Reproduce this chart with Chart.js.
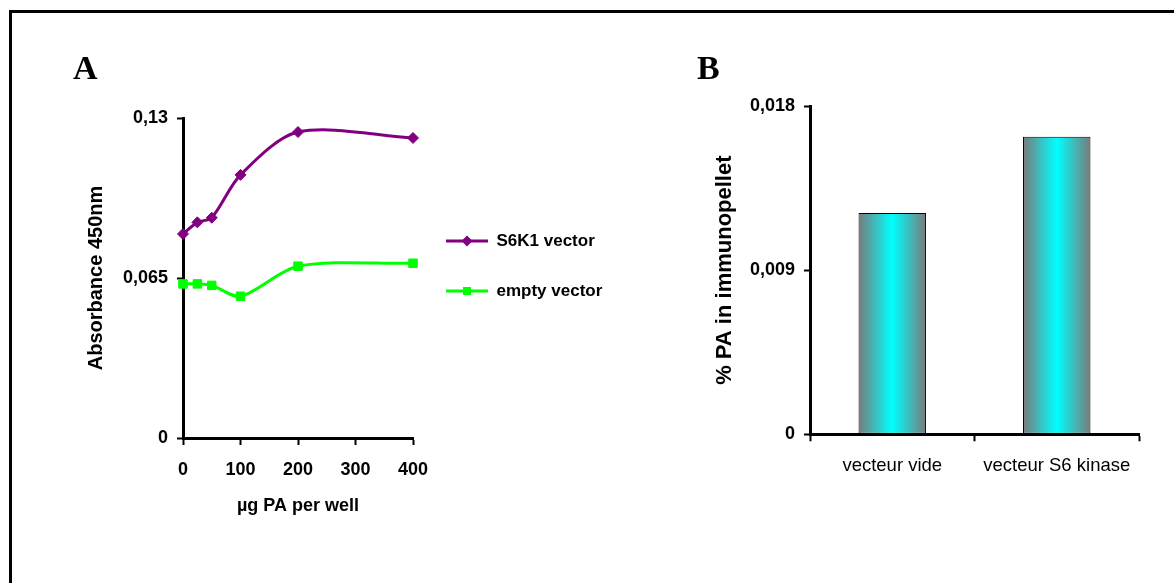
<!DOCTYPE html>
<html>
<head>
<meta charset="utf-8">
<script src="https://cdn.jsdelivr.net/npm/chart.js@4.4.0/dist/chart.umd.min.js"></script>
<style>
  body { margin: 0; background: #fff; width: 1174px; height: 583px; overflow: hidden; position: relative; }
  #frame { position: absolute; left: 9px; top: 10px; width: 1200px; height: 600px; border-left: 3px solid #000; border-top: 3px solid #000; }
  #chartA { position: absolute; left: 13px; top: 13px; }
  #chartB { position: absolute; left: 690px; top: 13px; }
</style>
</head>
<body>
<div id="frame"></div>
<canvas id="chartA" width="620" height="506"></canvas>
<canvas id="chartB" width="484" height="506"></canvas>
<script>
// Panel A - absorbance vs amount of PA
const doses = [0, 25, 50, 100, 200, 400];
const s6k1Vector = [0.0829, 0.0876, 0.0895, 0.1069, 0.1243, 0.1219];
const emptyVector = [0.0626, 0.0626, 0.0620, 0.0576, 0.0698, 0.0710];
const seriesNames = ['S6K1 vector', 'empty vector'];
const absTicks = [0, 0.065, 0.13];
const doseTicks = [0, 100, 200, 300, 400];

// Panel B - % PA in immunopellet
const constructs = ['vecteur vide', 'vecteur S6 kinase'];
const paPercent = [0.01214, 0.01632];
const paTicks = [0, 0.009, 0.018];

Chart.defaults.color = '#000';
Chart.defaults.font.family = '"Liberation Sans", Arial, sans-serif';

const commaLabel = v => String(v).replace('.', ',');

const axisGrid = { display: true, drawOnChartArea: false, drawTicks: true, tickLength: 6, tickWidth: 2, tickColor: '#000', color: '#000' };
const axisBorder = { display: true, color: '#000', width: 3 };

// legend sizes, so the plot area of A ends where it should
const legendFont = 17, legendPad = 33, legendIcon = 42;
const measure = document.createElement('canvas').getContext('2d');
measure.font = 'bold ' + legendFont + 'px "Liberation Sans", Arial, sans-serif';
const legendTextW = Math.max(...seriesNames.map(t => measure.measureText(t).width));
const legendW = legendPad + legendIcon + legendFont / 2 + legendTextW + 10;
const plotRightA = 400;

// small line+marker icons for the legend
function legendMarker(color, shape) {
    const c = document.createElement('canvas');
    c.width = legendIcon; c.height = 12;
    const g = c.getContext('2d');
    g.strokeStyle = color; g.lineWidth = 3;
    g.beginPath(); g.moveTo(0, 6); g.lineTo(legendIcon, 6); g.stroke();
    g.fillStyle = color;
    const m = legendIcon / 2;
    if (shape === 'diamond') {
        g.beginPath(); g.moveTo(m, 0.5); g.lineTo(m + 5.5, 6); g.lineTo(m, 11.5); g.lineTo(m - 5.5, 6); g.closePath(); g.fill();
    } else {
        g.fillRect(m - 4, 2, 8, 8);
    }
    return c;
}
const markers = [legendMarker('#800080', 'diamond'), legendMarker('#00ff00', 'square')];

new Chart(document.getElementById('chartA'), {
    type: 'line',
    data: {
        datasets: [{
            label: seriesNames[0],
            data: doses.map((d, i) => ({ x: d, y: s6k1Vector[i] })),
            borderColor: '#800080',
            backgroundColor: '#800080',
            borderWidth: 3,
            tension: 0.3,
            pointStyle: 'rectRot',
            pointRadius: 5.5,
            pointBorderWidth: 1,
            clip: false
        }, {
            label: seriesNames[1],
            data: doses.map((d, i) => ({ x: d, y: emptyVector[i] })),
            borderColor: '#00ff00',
            backgroundColor: '#00ff00',
            borderWidth: 3,
            tension: 0.3,
            pointStyle: 'rect',
            pointRadius: 6,
            pointBorderWidth: 1,
            clip: false
        }]
    },
    options: {
        responsive: false,
        animation: false,
        devicePixelRatio: 1,
        layout: { padding: { left: 60, top: 0, right: 620 - plotRightA - legendW, bottom: 0 } },
        plugins: {
            title: {
                display: true,
                text: 'A',
                align: 'start',
                color: '#000',
                font: { family: '"Liberation Serif", "Times New Roman", serif', size: 34, weight: 'bold', lineHeight: 1 },
                padding: { top: 40, bottom: 31 }
            },
            legend: {
                position: 'right',
                maxWidth: legendW,
                labels: {
                    usePointStyle: true,
                    pointStyleWidth: legendIcon,
                    padding: legendPad,
                    color: '#000',
                    font: { size: legendFont, weight: 'bold' },
                    generateLabels: chart => Chart.defaults.plugins.legend.labels.generateLabels(chart)
                        .map((item, i) => ({ ...item, pointStyle: markers[i] }))
                }
            },
            tooltip: { enabled: false }
        },
        scales: {
            x: {
                type: 'linear',
                min: 0,
                max: 400,
                afterBuildTicks: s => { s.ticks = doseTicks.map(v => ({ value: v })); },
                afterFit: s => { s.height = 81; },
                grid: { ...axisGrid, tickLength: 7 },
                border: axisBorder,
                ticks: { font: { size: 18, weight: 'bold' }, padding: 14, callback: v => String(v) },
                title: { display: true, text: 'µg PA per well', font: { size: 18, weight: 'bold' }, padding: { top: 0, bottom: 2 } }
            },
            y: {
                min: 0,
                max: 0.13,
                afterBuildTicks: s => { s.ticks = absTicks.map(v => ({ value: v })); },
                afterFit: s => { s.width = 110; },
                grid: axisGrid,
                border: axisBorder,
                ticks: { font: { size: 18, weight: 'bold' }, padding: 9, callback: commaLabel },
                title: { display: true, text: 'Absorbance 450nm', font: { size: 20, weight: 'bold' }, padding: { top: 11, bottom: 0 } }
            }
        }
    }
});

// grey - cyan - grey horizontal shading of each bar
function barGradient(ctx) {
    const chart = ctx.chart;
    const xs = chart.scales.x;
    if (!chart.chartArea || !xs || ctx.dataIndex === undefined) return '#808080';
    const center = xs.getPixelForValue(ctx.dataIndex);
    const half = xs.width / constructs.length * 0.41 / 2;
    const g = chart.ctx.createLinearGradient(center - half, 0, center + half, 0);
    g.addColorStop(0, '#7a7a7a');
    g.addColorStop(0.5, '#00ffff');
    g.addColorStop(1, '#7a7a7a');
    return g;
}

new Chart(document.getElementById('chartB'), {
    type: 'bar',
    data: {
        labels: constructs,
        datasets: [{
            data: paPercent,
            backgroundColor: barGradient,
            borderColor: '#000',
            borderWidth: 1,
            borderSkipped: false,
            barPercentage: 0.41,
            categoryPercentage: 1
        }]
    },
    options: {
        responsive: false,
        animation: false,
        devicePixelRatio: 1,
        layout: { padding: { left: 7, top: 0, right: 35, bottom: 0 } },
        plugins: {
            title: {
                display: true,
                text: 'B',
                align: 'start',
                color: '#000',
                font: { family: '"Liberation Serif", "Times New Roman", serif', size: 34, weight: 'bold', lineHeight: 1 },
                padding: { top: 40, bottom: 19 }
            },
            legend: { display: false },
            tooltip: { enabled: false }
        },
        scales: {
            x: {
                z: 1,
                afterFit: s => { s.height = 84.7; },
                grid: { ...axisGrid, offset: true, tickLength: 7 },
                border: axisBorder,
                ticks: { font: { size: 18.5 }, padding: 14 }
            },
            y: {
                min: 0,
                max: 0.018,
                afterBuildTicks: s => { s.ticks = paTicks.map(v => ({ value: v })); },
                afterFit: s => { s.width = 113; },
                grid: axisGrid,
                border: axisBorder,
                ticks: { font: { size: 18, weight: 'bold' }, padding: 9, callback: commaLabel },
                title: { display: true, text: '% PA in immunopellet', font: { size: 22, weight: 'bold' }, padding: { top: 15, bottom: 0 } }
            }
        }
    }
});
</script>
</body>
</html>
